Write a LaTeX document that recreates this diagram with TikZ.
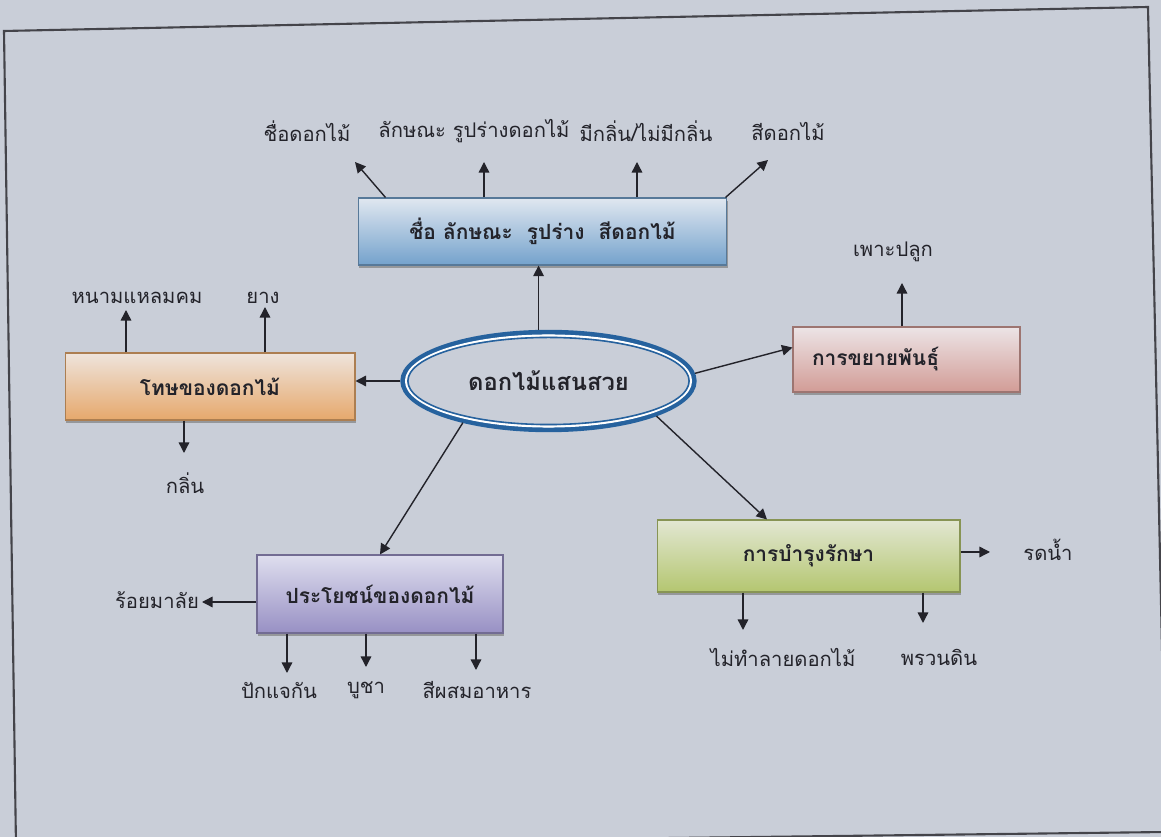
\documentclass[tikz,border=0pt]{standalone}
\usepackage{fontspec}
\setmainfont{Loma}[Script=Thai]
\usetikzlibrary{arrows.meta,shapes.geometric,shadows,positioning}
\definecolor{paper}{RGB}{201,206,216}
\definecolor{ink}{RGB}{35,35,42}
\definecolor{ring}{RGB}{38,98,158}
\definecolor{nameA}{RGB}{224,231,240}\definecolor{nameB}{RGB}{116,162,204}
\definecolor{harmA}{RGB}{238,228,220}\definecolor{harmB}{RGB}{230,168,108}
\definecolor{propA}{RGB}{236,228,230}\definecolor{propB}{RGB}{210,156,150}
\definecolor{careA}{RGB}{226,231,210}\definecolor{careB}{RGB}{180,198,112}
\definecolor{useA}{RGB}{222,222,238}\definecolor{useB}{RGB}{152,144,196}
\tikzset{
  link/.style={-{Triangle[length=6pt,width=6pt]}, line width=0.8pt, draw=ink},
  tag/.style={font=\fontsize{11.5}{14}\selectfont, text=ink, inner sep=0pt},
  topic/.style 2 args={draw=#2!75!black, line width=0.6pt, top color=#1, bottom color=#2,
    font=\bfseries\fontsize{11.9}{14}\selectfont, text=ink,
    drop shadow={shadow xshift=0.6pt, shadow yshift=-1.6pt, opacity=0.7}},
  hub/.style={ellipse, draw=ring, line width=2.8pt, fill=paper, minimum width=5.83cm,
    minimum height=1.95cm, font=\bfseries\fontsize{13.5}{16}\selectfont, text=ink}
}
\begin{document}
\begin{tikzpicture}[x=0.02cm,y=-0.02cm]
\useasboundingbox (0,0) rectangle (1161,837);
\fill[paper] (0,0) rectangle (1161,837);
\draw[ink!85, line width=1.2pt] (4,31) -- (1148,7) -- (1166,832) -- (16,846) -- cycle; % page frame

% centre
\node[hub] (hub) at (548.5,381) {ดอกไม้แสนสวย};
\draw[white, line width=1.2pt] (hub.center) ellipse [x radius=2.85cm, y radius=0.91cm];
\draw[ring, line width=0.9pt] (hub.center) ellipse [x radius=2.813cm, y radius=0.871cm];

% topics
\node[topic={nameA}{nameB}, minimum width=7.38cm, minimum height=1.34cm] (names) at (542.5,231.5) {ชื่อ ลักษณะ\ \ รูปร่าง\ \ สีดอกไม้};
\node[topic={harmA}{harmB}, minimum width=5.8cm, minimum height=1.34cm] (harm) at (210,386.5) {โทษของดอกไม้};
\node[topic={propA}{propB}, text width=3.78cm, inner xsep=0.38cm, minimum height=1.3cm, align=left] (prop) at (906.5,359.5) {การขยายพันธุ์};
\node[topic={careA}{careB}, minimum width=6.06cm, minimum height=1.44cm] (care) at (808.5,556) {การบำรุงรักษา};
\node[topic={useA}{useB}, minimum width=4.92cm, minimum height=1.56cm] (use) at (380,594) {ประโยชน์ของดอกไม้};

\draw[link] (hub.101) -- (hub.101 |- names.south);
\draw[link] (hub.west) -- (hub.west -| harm.east);
\draw[link] (hub.3) -- (prop.174);
\draw[link] (hub.-18) -- ([xshift=-0.83cm]care.north);
\draw[link] (hub.206) -- (use.north);

% leaves
\node[tag] (n1) at (307,131) {ชื่อดอกไม้};
\node[tag] (n2) at (474,131) {ลักษณะ รูปร่างดอกไม้};
\node[tag] (n3) at (646,131) {มีกลิ่น/ไม่มีกลิ่น};
\node[tag] (n4) at (788,131) {สีดอกไม้};
\node[tag] (h1) at (137,298) {หนามแหลมคม};
\node[tag] (h2) at (263,298) {ยาง};
\node[tag] (h3) at (185,483) {กลิ่น};
\node[tag] (p1) at (893,252) {เพาะปลูก};
\node[tag] (c1) at (1048,550) {รดน้ำ};
\node[tag] (c2) at (783,657) {ไม่ทำลายดอกไม้};
\node[tag] (c3) at (939,657) {พรวนดิน};
\node[tag] (u1) at (157,600) {ร้อยมาลัย};
\node[tag] (u2) at (279,690) {ปักแจกัน};
\node[tag] (u3) at (366,690) {บูชา};
\node[tag] (u4) at (477,690) {สีผสมอาหาร};

\coordinate (tn1) at (355,162);
\coordinate (tn2) at (484,162);
\coordinate (tn3) at (637,162);
\coordinate (tn4) at (768,160);
\coordinate (th1) at (126,310);
\coordinate (th2) at (265,307);
\coordinate (th3) at (184,453);
\coordinate (tp1) at (902,283);
\coordinate (tc1) at (990,552);
\coordinate (tc2) at (743,630);
\coordinate (tc3) at (923,623);
\coordinate (tu1) at (202,602);
\coordinate (tu2) at (287,673);
\coordinate (tu3) at (366,667);
\coordinate (tu4) at (476,670);

\draw[link] ([xshift=0.56cm]names.north west) -- (tn1);
\draw[link] (names.north -| tn2) -- (tn2);
\draw[link] (names.north -| tn3) -- (tn3);
\draw[link] ([xshift=-0.04cm]names.north east) -- (tn4);
\draw[link] (harm.north -| th1) -- (th1);
\draw[link] (harm.north -| th2) -- (th2);
\draw[link] (harm.south -| th3) -- (th3);
\draw[link] (prop.north -| tp1) -- (tp1);
\draw[link] (care.east |- tc1) -- (tc1);
\draw[link] (care.south -| tc2) -- (tc2);
\draw[link] (care.south -| tc3) -- (tc3);
\draw[link] (use.west |- tu1) -- (tu1);
\draw[link] (use.south -| tu2) -- (tu2);
\draw[link] (use.south -| tu3) -- (tu3);
\draw[link] (use.south -| tu4) -- (tu4);
\end{tikzpicture}
\end{document}
